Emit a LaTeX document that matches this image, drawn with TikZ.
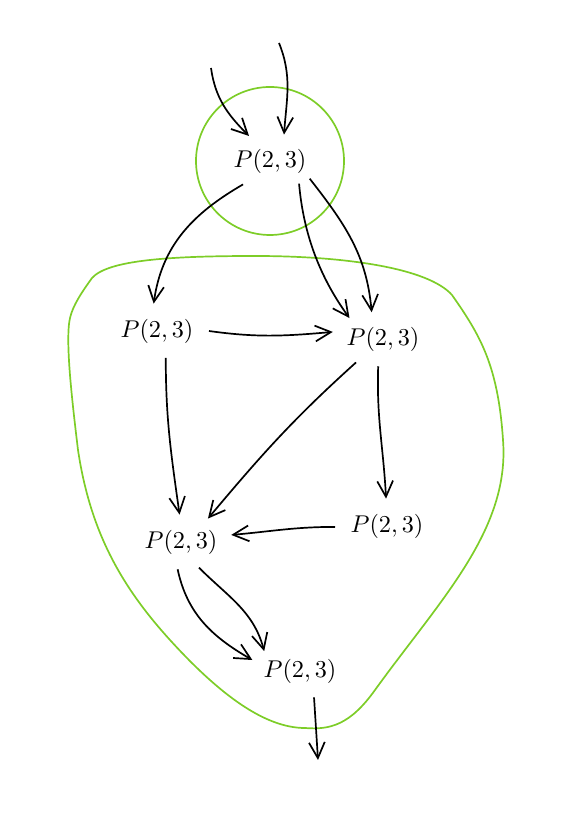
\documentclass[tikz,border=0pt]{standalone}
\usepackage{tikz}
\usetikzlibrary{shapes.geometric,arrows.meta}
\definecolor{zonegreen}{RGB}{125,205,40}
\tikzset{
  pnode/.style={ellipse, inner sep=0pt, minimum width=1.39cm, minimum height=0.78cm},
  ed/.style={-{Straight Barb[length=6.5pt,width=6.5pt]}, line width=0.7pt},
  zone/.style={draw=zonegreen, line width=0.7pt}
}
\begin{document}
\begin{tikzpicture}[x=0.0145cm,y=0.0145cm]
\useasboundingbox (0,0) rectangle (564,832);
% nodes
\node[pnode] (T) at (270,671) {$P(2,3)$};
\node[pnode] (A) at (157,501) {$P(2,3)$};
\node[pnode] (B) at (383,493) {$P(2,3)$};
\node[pnode] (C) at (181,290) {$P(2,3)$};
\node[pnode] (D) at (387,306) {$P(2,3)$};
\node[pnode] (E) at (300,161) {$P(2,3)$};
\coordinate (in1) at (211,764);
\coordinate (in2) at (279,789);
\coordinate (out) at (318,72);
% zones
\draw[zone] (T) circle (74);
\draw[zone] (92,554) .. controls (108,572) and (170,576) .. (255,576)
  .. controls (345,576) and (428,564) .. (452,537)
  .. controls (480,497) and (498,467) .. (503,392)
  .. controls (510,302) and (440,232) .. (375,142)
  .. controls (350,107) and (330,102) .. (305,104)
  .. controls (265,104) and (220,137) .. (170,192)
  .. controls (120,247) and (90,302) .. (78,382)
  .. controls (72,432) and (65,492) .. (70,514)
  .. controls (73,527) and (82,540) .. cycle;
% edges
\draw[ed] (in1) to[out=-82,in=135] (T.130);
\draw[ed] (in2) to[out=-68,in=86] (T.62);
\draw[ed] (T.221) to[out=210,in=82] (A.97);
\draw[ed] (T.322) to[out=-85,in=126,looseness=0.9] (B.148);
\draw[ed] (T.336) to[out=-52,in=95] (B.113);
\draw[ed] (A.0) to[out=-8,in=185] (B.172);
\draw[ed] (A.288) to[out=-90,in=98] (C.93);
\draw[ed] (B.221) to[out=222,in=50] (C.41);
\draw[ed] (B.260) to[out=-92,in=93] (D.92);
\draw[ed] (D.181) to[out=180,in=5] (C.8);
\draw[ed] (C.263) to[out=-78,in=150] (E.167);
\draw[ed] (C.305) to[out=-45,in=105] (E.151);
\draw[ed] (E.298) -- (out);
\end{tikzpicture}
\end{document}
